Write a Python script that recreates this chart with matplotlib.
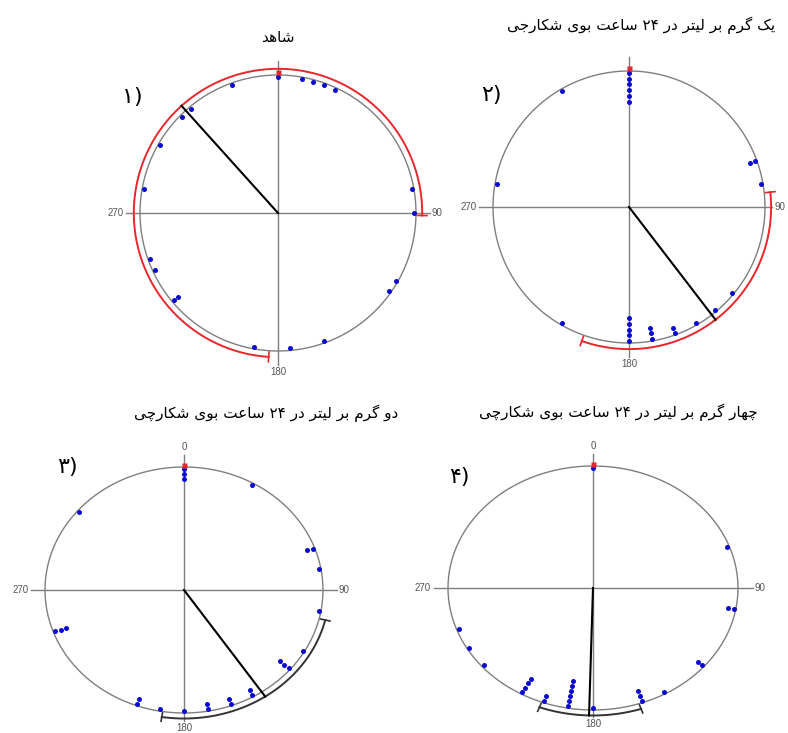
import re

import matplotlib
matplotlib.use("Agg")
import matplotlib.pyplot as plt
import numpy as np

W, H = 788, 733
GRAY = "#7f7f7f"
DOT = "#0a0ad0"

# panel titles (logical order, right-to-left)
TITLES = ["شاهد",
          "یک گرم بر لیتر در ۲۴ ساعت بوی شکارجی",
          "دو گرم بر لیتر در ۲۴ ساعت بوی شکارچی",
          "چهار گرم بر لیتر در ۲۴ ساعت بوی شکارچی"]
LABELS = ["۱)", "۲)", "۳)", "۴)"]

# observed directions (degrees, clockwise from north) and how many fell in each
p1_angles = [0, 10, 15, 20, 25, 80, 90, 120, 125, 160, 175, 190, 230, 245, 250, 280, 300, 315, 320, 340]
p1_counts = [1, 1, 1, 1, 1, 1, 1, 1, 1, 1, 1, 1, 2, 1, 1, 1, 1, 1, 1, 1]
p2_angles = [0, 70, 80, 130, 140, 150, 160, 170, 180, 210, 280, 330]
p2_counts = [6, 2, 1, 1, 1, 1, 2, 3, 5, 1, 1, 1]
p3_angles = [0, 30, 70, 80, 100, 120, 130, 150, 160, 170, 180, 190, 200, 250, 310]
p3_counts = [3, 1, 2, 1, 1, 1, 3, 2, 2, 2, 1, 1, 2, 3, 1]
p4_angles = [0, 70, 100, 130, 150, 160, 180, 190, 200, 210, 230, 240, 250]
p4_counts = [1, 1, 2, 2, 1, 3, 1, 6, 2, 4, 1, 1, 1]

# mean direction and its confidence arc (start, end, clockwise)
mean_dir = [318, 142.5, 146, 181.5]
ci_start = [183.7, 84, 103.5, 161.5]
ci_end = [451, 199.4, 188.8, 200.7]
ci_color = ["#e8262b", "#e8262b", "#333333", "#333333"]

ANGLES = [p1_angles, p2_angles, p3_angles, p4_angles]
COUNTS = [p1_counts, p2_counts, p3_counts, p4_counts]

# centre and radii of each circle in pixels (x from left, y from top)
GEOM = [(278, 213, 138, 138), (629, 207, 136, 136), (184, 590, 139, 123), (593, 588, 145, 122)]
TITLE_XY = [(278, 38), (641, 25), (266, 413), (618, 412)]
LABEL_XY = [(132, 97), (491, 95), (67, 467), (459, 477)]
SHOW_ZERO = [False, False, True, True]
# how far the right / bottom axis lines reach (kept short where the sheet ends)
RIGHT_END = [1.1, 1.055, 1.1, 1.1]
BOTTOM_END = [1.1, 1.1, 1.065, 1.06]

# Arabic contextual forms: isolated, final, initial, medial (right-joining letters have two)
FORMS = {
    "ا": "\uFE8D\uFE8E", "د": "\uFEA9\uFEAA", "ر": "\uFEAD\uFEAE", "و": "\uFEED\uFEEE",
    "ب": "\uFE8F\uFE90\uFE91\uFE92", "ت": "\uFE95\uFE96\uFE97\uFE98",
    "ج": "\uFE9D\uFE9E\uFE9F\uFEA0", "س": "\uFEB1\uFEB2\uFEB3\uFEB4",
    "ش": "\uFEB5\uFEB6\uFEB7\uFEB8", "ع": "\uFEC9\uFECA\uFECB\uFECC",
    "ل": "\uFEDD\uFEDE\uFEDF\uFEE0", "م": "\uFEE1\uFEE2\uFEE3\uFEE4",
    "ه": "\uFEE9\uFEEA\uFEEB\uFEEC", "چ": "\uFB7A\uFB7B\uFB7C\uFB7D",
    "ک": "\uFB8E\uFB8F\uFB90\uFB91", "گ": "\uFB92\uFB93\uFB94\uFB95",
    "ی": "\uFBFC\uFBFD\uFBFE\uFBFF",
}


def shape_rtl(s):
    out = []
    for i, ch in enumerate(s):
        f = FORMS.get(ch)
        if f is None:
            out.append(ch)
            continue
        prev = s[i - 1] if i > 0 else ""
        nxt = s[i + 1] if i + 1 < len(s) else ""
        jp = prev in FORMS and len(FORMS[prev]) == 4
        jn = len(f) == 4 and nxt in FORMS
        out.append(f[3 if jp and jn else 1 if jp else 2 if jn else 0])
    vis = "".join(reversed(out))
    # numbers stay left-to-right inside right-to-left text
    return re.sub(r"[\u06F0-\u06F9]+", lambda m: m.group(0)[::-1], vis)


def polar_xy(deg, r):
    t = np.radians(np.asarray(deg, dtype=float))
    return r * np.sin(t), r * np.cos(t)


def draw_panel(ax, angles, counts, mean, a0, a1, ccol, show_zero, r_end, b_end):
    L = 1.1
    ax.plot([-L, r_end], [0, 0], color=GRAY, lw=1.0)
    ax.plot([0, 0], [-b_end, L], color=GRAY, lw=1.0)
    x, y = polar_xy(np.linspace(0, 360, 721), 1.0)
    ax.plot(x, y, color=GRAY, lw=1.0)

    lab = dict(color="#555555", fontsize=7, family="Liberation Sans")
    ax.text(-L - 0.02, 0, "270", ha="right", va="center", **lab)
    ax.text(r_end + 0.015, 0, "90", ha="left", va="center", **lab)
    ax.text(0, -b_end - 0.015, "180", ha="center", va="top", **lab)
    if show_zero:
        ax.text(0, L + 0.02, "0", ha="center", va="bottom", **lab)

    # confidence arc with radial end caps
    rc = 1.045
    x, y = polar_xy(np.linspace(a0, a1, 300), rc)
    ax.plot(x, y, color=ccol, lw=1.4)
    for a in (a0, a1):
        x, y = polar_xy([a, a], [rc - 0.035, rc + 0.035])
        ax.plot(x, y, color=ccol, lw=1.2)

    # mean vector
    x, y = polar_xy([mean, mean], [0, rc])
    ax.plot(x, y, color="black", lw=1.5)

    # stacked observations, piling inward from the rim
    for a, n in zip(angles, counts):
        r = 0.985 - 0.042 * np.arange(n)
        x, y = polar_xy(np.full(n, a), r)
        ax.plot(x, y, "o", color=DOT, ms=3.6, mec="none")

    x, y = polar_xy([0], [1.02])
    ax.plot(x, y, "s", color="#e8262b", ms=3.6, mec="none")


fig = plt.figure(figsize=(W / 100, H / 100), dpi=100)
LIM = 1.3
for i in range(4):
    cx, cy, rx, ry = GEOM[i]
    rect = [(cx - LIM * rx) / W, (H - cy - LIM * ry) / H, 2 * LIM * rx / W, 2 * LIM * ry / H]
    ax = fig.add_axes(rect, frameon=False)
    ax.set_xlim(-LIM, LIM)
    ax.set_ylim(-LIM, LIM)
    ax.set_axis_off()
    draw_panel(ax, ANGLES[i], COUNTS[i], mean_dir[i], ci_start[i], ci_end[i], ci_color[i],
               SHOW_ZERO[i], RIGHT_END[i], BOTTOM_END[i])

    tx, ty = TITLE_XY[i]
    fig.text(tx / W, 1 - ty / H, shape_rtl(TITLES[i]), ha="center", va="center",
             fontsize=11, family="DejaVu Sans")
    lx, ly = LABEL_XY[i]
    fig.text(lx / W, 1 - ly / H, LABELS[i], ha="center", va="center",
             fontsize=16, family="DejaVu Sans")

fig.savefig("out.png", dpi=100)
